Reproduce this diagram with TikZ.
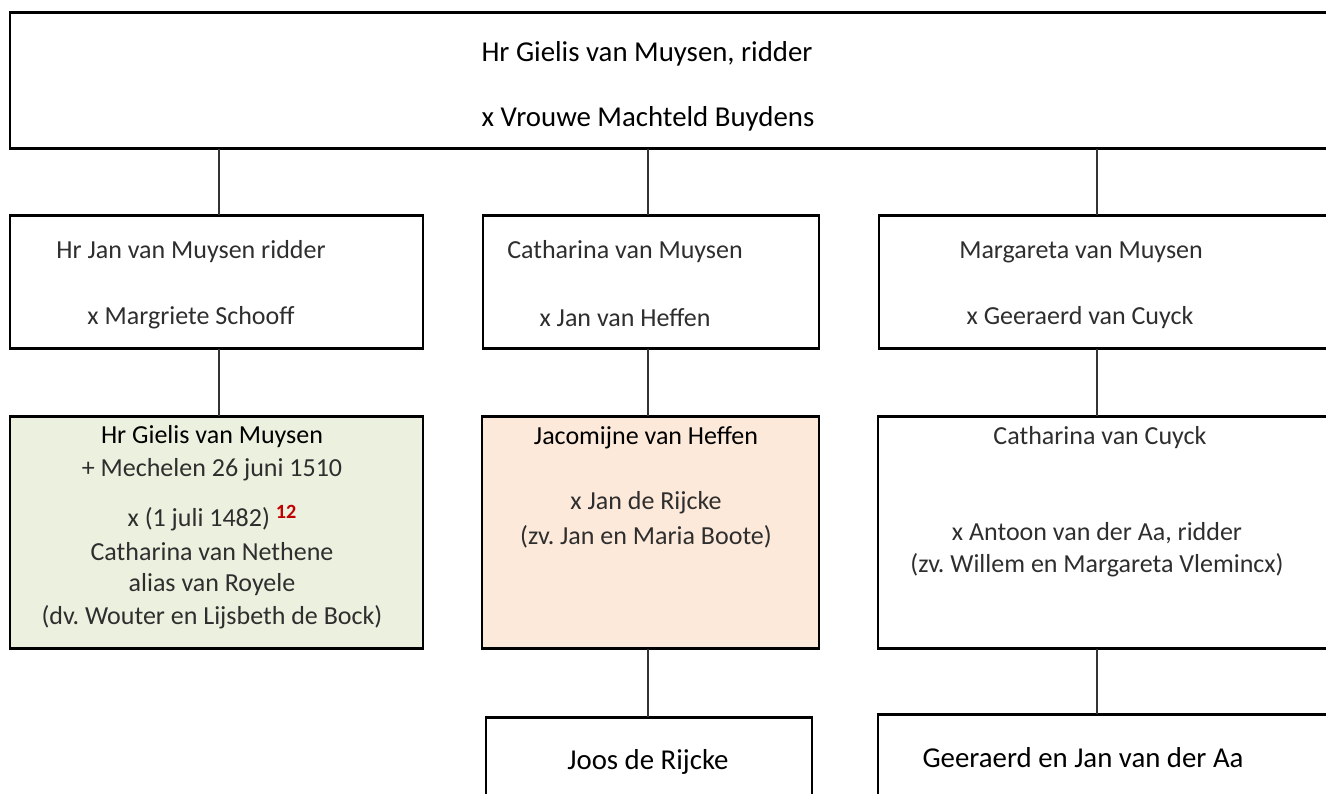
\documentclass[tikz,border=0pt]{standalone}
\usepackage{fontspec}
\setmainfont{Carlito}
\usepackage{tikz}
\usetikzlibrary{positioning,fit,calc}
\definecolor{groen}{HTML}{EBF1DE}
\definecolor{perzik}{HTML}{FDE9D9}
\definecolor{noot}{HTML}{C00000}
\newcommand{\stam}{\fontsize{14.8}{18}\selectfont}
\newcommand{\groot}{\fontsize{16.4}{20}\selectfont}
\frenchspacing

\begin{document}
\begin{tikzpicture}[x=0.02cm,y=-0.02cm,
  kader/.style={draw,line width=0.6pt,inner sep=0pt,
    append after command={(\tikzlastnode.north west) edge[line width=1.4pt] (\tikzlastnode.north east)
      (\tikzlastnode.south west) edge[line width=1.4pt] (\tikzlastnode.south east)}},
  vak/.style={kader,line width=1pt},
  lijn/.style={black!80,line width=0.6pt},
  txt/.style={inner sep=0pt,font=\stam,text=black!82},
  naam/.style={inner sep=0pt,font=\stam,text=black},
  kop/.style={inner sep=0pt,font=\groot,text=black}]
\clip (0,0) rectangle (1326,794);
\coordinate (c1) at (219,0);
\coordinate (c2) at (648,0);
\coordinate (c3) at (1097,0);
% stamvader
\node[kader,fit={(10,13) (1340,148)}] (top) {};
\node[kop] (top1) at (647,54) {Hr Gielis van Muysen, ridder};
\node[kop] (top2) at (648,119) {x Vrouwe Machteld Buydens};
% kinderen
\node[kader,fit={(10,216) (423,348)}] (m1) {};
\node[kader,fit={(483,216) (819,348)}] (m2) {};
\node[kader,fit={(879,216) (1340,348)}] (m3) {};
\node[txt] (m1a) at (191,252) {Hr Jan van Muysen ridder};
\node[txt] (m1b) at (191,318) {x Margriete Schooff};
\node[txt] (m2a) at (625,252) {Catharina van Muysen};
\node[txt] (m2b) at (625,318) {x Jan van Heffen};
\node[txt] (m3a) at (1081,252) {Margareta van Muysen};
\node[txt] (m3b) at (1080,318) {x Geeraerd van Cuyck};
% kleinkinderen
\node[vak,fill=groen,fit={(10,417) (423,648)}] (l1) {};
\node[vak,fill=perzik,fit={(482,417) (819,648)}] (l2) {};
\node[vak,fit={(878,417) (1340,648)}] (l3) {};
\node[naam] (l1a) at (212,437) {Hr Gielis van Muysen};
\node[txt] (l1b) at (212,470) {+ Mechelen 26 juni 1510};
\node[txt] (l1c) at (212,518) {x (1 juli 1482) \raisebox{0.6ex}{\fontsize{11.5}{11}\selectfont\bfseries\textcolor{noot}{12}}};
\node[txt] (l1d) at (212,552) {Catharina van Nethene};
\node[txt] (l1e) at (212,585) {alias van Royele};
\node[txt] (l1f) at (212,617) {(dv. Wouter en Lijsbeth de Bock)};
\node[naam] (l2a) at (646,438) {Jacomijne van Heffen};
\node[txt] (l2b) at (646,503) {x Jan de Rijcke};
\node[txt] (l2c) at (646,537) {(zv. Jan en Maria Boote)};
\node[txt] (l3a) at (1100,438) {Catharina van Cuyck};
\node[txt] (l3b) at (1097,533) {x Antoon van der Aa, ridder};
\node[txt] (l3c) at (1097,565) {(zv. Willem en Margareta Vlemincx)};
% achterkleinkinderen
\node[vak,fit={(486,718) (812,820)}] (b2) {};
\node[vak,fit={(878,715) (1340,820)}] (b3) {};
\node[kop] (b2a) at (648,762) {Joos de Rijcke};
\node[kop] (b3a) at (1083,758) {Geeraerd en Jan van der Aa};
% verbindingen
\draw[lijn] (c1 |- top.south) -- (c1 |- m1.north);
\draw[lijn] (c2 |- top.south) -- (c2 |- m2.north);
\draw[lijn] (c3 |- top.south) -- (c3 |- m3.north);
\draw[lijn] (c1 |- m1.south) -- (c1 |- l1.north);
\draw[lijn] (c2 |- m2.south) -- (c2 |- l2.north);
\draw[lijn] (c3 |- m3.south) -- (c3 |- l3.north);
\draw[lijn] (c2 |- l2.south) -- (c2 |- b2.north);
\draw[lijn] (c3 |- l3.south) -- (c3 |- b3.north);
\end{tikzpicture}
\end{document}
